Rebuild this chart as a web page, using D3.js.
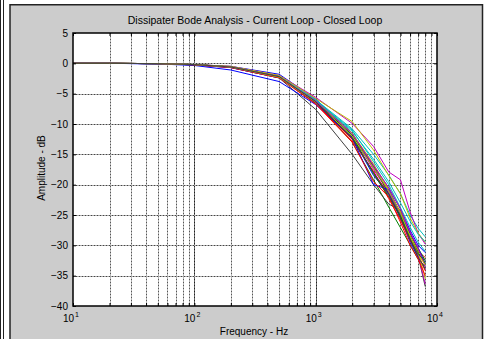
<!DOCTYPE html>
<html>
<head>
<meta charset="utf-8">
<script src="https://cdn.jsdelivr.net/npm/d3@7"></script>
<style>
  html, body { margin: 0; padding: 0; background: #fff; }
  svg { display: block; font-family: "Liberation Sans", Arial, sans-serif; }
</style>
</head>
<body>
<svg id="chart" width="490" height="339"></svg>
<script>
// Frequencies (Hz) at which each closed-loop response was measured
const freqs = [10, 20, 50, 100, 200, 500, 1000, 2000, 3000, 4000, 5000, 6000, 7000, 8000];

// Line colours, cycled through the runs in order
const seriesColors = ["#0000ff", "#008000", "#ff0000", "#00bfbf", "#bf00bf", "#bfbf00", "#404040"];

// Amplitude (dB) of each run, one row per run, aligned with freqs
const amplitudes = [
  [0.05, 0, -0.05, -0.2, -0.5, -1.8, -5.9, -11.5, -17.0, -20.5, -24.0, -27.5, -30.0, -31.2],
  [0, 0, -0.05, -0.2, -0.6, -2.2, -6.4, -13.0, -19.2, -23.7, -27.1, -29.9, -32.3, -33.5],
  [0.05, 0, -0.05, -0.25, -0.6, -2.3, -6.5, -12.5, -18.0, -21.5, -24.5, -28.0, -31.0, -32.0],
  [0, 0, -0.05, -0.2, -0.6, -2.1, -6.0, -10.8, -15.0, -18.4, -21.5, -25.0, -27.2, -28.6],
  [0, 0, -0.05, -0.2, -0.5, -2.0, -5.6, -9.9, -13.7, -17.9, -19.2, -24.5, -28.0, -29.8],
  [0.05, 0, -0.05, -0.2, -0.5, -2.0, -5.8, -9.6, -14.3, -18.5, -21.5, -25.5, -28.0, -29.5],
  [0, 0, -0.05, -0.25, -0.7, -2.4, -7.6, -15.0, -20.0, -23.2, -24.2, -29.0, -31.8, -36.8],
  [0.05, 0, -0.1, -0.35, -1.1, -3.0, -6.8, -12.2, -18.5, -21.5, -25.5, -29.5, -32.0, -34.0],
  [0, 0, -0.05, -0.2, -0.6, -2.3, -6.3, -11.8, -17.2, -21.0, -24.8, -28.5, -30.5, -32.5],
  [0, 0, -0.05, -0.2, -0.6, -2.2, -6.6, -12.8, -17.8, -22.3, -25.8, -29.2, -31.5, -34.2],
  [0, 0, -0.05, -0.25, -0.6, -2.2, -6.2, -11.2, -15.8, -19.5, -23.0, -26.0, -28.2, -29.4],
  [0, 0, -0.05, -0.2, -0.6, -2.3, -6.4, -12.0, -17.5, -21.2, -25.0, -28.8, -31.6, -36.4],
  [0, 0, -0.05, -0.2, -0.6, -2.2, -6.2, -11.5, -16.6, -20.8, -24.5, -28.2, -31.0, -35.5],
  [0, 0, -0.05, -0.25, -0.6, -2.3, -6.5, -12.2, -17.0, -21.5, -25.2, -29.0, -32.0, -33.8],
  [0, 0, -0.08, -0.25, -0.7, -2.4, -6.4, -12.3, -20.0, -20.8, -24.8, -28.0, -30.5, -33.0],
  [0, 0, -0.05, -0.2, -0.6, -2.2, -6.3, -12.0, -18.2, -22.0, -25.2, -28.6, -31.2, -33.0],
  [0, 0, -0.05, -0.25, -0.7, -2.4, -6.7, -13.0, -19.5, -22.0, -26.2, -30.0, -32.3, -35.0],
  [0, 0, -0.05, -0.2, -0.6, -2.2, -6.1, -11.0, -16.2, -20.0, -23.8, -27.0, -29.5, -31.0],
  [0, 0, -0.05, -0.2, -0.6, -2.2, -6.2, -11.6, -16.8, -20.5, -24.0, -27.8, -30.5, -33.5],
  [0, 0, -0.05, -0.2, -0.6, -2.3, -6.4, -12.0, -17.2, -21.0, -24.7, -28.5, -31.5, -33.2],
  [0, 0, -0.05, -0.2, -0.6, -2.2, -6.3, -12.4, -18.0, -21.8, -25.5, -29.0, -31.5, -32.5]
];

// Axis ticks
const yTicks = [5, 0, -5, -10, -15, -20, -25, -30, -35, -40];
const xMajorTicks = [10, 100, 1000, 10000];
const xMajorExponents = ["1", "2", "3", "4"];
const xMinorTicks = [];
[10, 100, 1000].forEach(d => { for (let m = 2; m <= 9; m++) xMinorTicks.push(d * m); });

const titleText = "Dissipater Bode Analysis - Current Loop - Closed Loop";
const xLabelText = "Frequency - Hz";
const yLabelText = "Amplitude - dB";

const svg = d3.select("#chart");
const plot = { left: 73, right: 437, top: 33, bottom: 306 };

// Figure frame
svg.append("line").attr("x1", 0.5).attr("x2", 0.5).attr("y1", 0).attr("y2", 339)
  .attr("stroke", "#222").attr("stroke-width", 1);
svg.append("line").attr("x1", 3.5).attr("x2", 3.5).attr("y1", 0).attr("y2", 339)
  .attr("stroke", "#222").attr("stroke-width", 1);
svg.append("rect").attr("x", 10).attr("y", 4.75).attr("width", 472.5).attr("height", 340)
  .attr("fill", "#cccccc").attr("stroke", "#222").attr("stroke-width", 1.5);

// Plot background
svg.append("rect").attr("x", plot.left).attr("y", plot.top)
  .attr("width", plot.right - plot.left).attr("height", plot.bottom - plot.top)
  .attr("fill", "#fff");

const x = d3.scaleLog().domain([10, 10000]).range([plot.left, plot.right]);
const y = d3.scaleLinear().domain([-40, 5]).range([plot.bottom, plot.top]);

// Grid: light line under a dark dotted pattern
const grid = svg.append("g");
const px = v => Math.round(v) + 0.5;
function gridLines(cls, data, vertical, base, dots) {
  const sel = grid.selectAll("line." + cls).data(data).join("line").attr("class", cls);
  if (vertical) {
    sel.attr("x1", d => px(x(d))).attr("x2", d => px(x(d))).attr("y1", plot.top).attr("y2", plot.bottom);
  } else {
    sel.attr("x1", plot.left).attr("x2", plot.right).attr("y1", d => px(y(d))).attr("y2", d => px(y(d)));
  }
  sel.attr("stroke", base).attr("stroke-width", 1);
  const dot = grid.selectAll("line." + cls + "d").data(data).join("line").attr("class", cls + "d");
  if (vertical) {
    dot.attr("x1", d => px(x(d))).attr("x2", d => px(x(d))).attr("y1", plot.top).attr("y2", plot.bottom);
  } else {
    dot.attr("x1", plot.left).attr("x2", plot.right).attr("y1", d => px(y(d))).attr("y2", d => px(y(d)));
  }
  dot.attr("stroke", dots).attr("stroke-width", 1).attr("stroke-dasharray", "1,2");
}
gridLines("vminor", xMinorTicks, true, "#b4b4b4", "#555");
gridLines("vmajor", xMajorTicks.slice(1, 3), true, "#666", "#222");
gridLines("hgrid", yTicks.slice(1, -1), false, "#a8a8a8", "#444");

// Response curves
const line = d3.line().x((d, i) => x(freqs[i])).y(d => y(d));
svg.append("g").selectAll("path").data(amplitudes).join("path")
  .attr("d", line)
  .attr("fill", "none")
  .attr("stroke", (d, i) => seriesColors[i % seriesColors.length])
  .attr("stroke-width", 1)
  .attr("stroke-linejoin", "round");

// Axes with inward ticks on all four sides
const tickLen = 3;
const axisStyle = g => {
  g.select(".domain").remove();
  g.selectAll(".tick line").attr("stroke", "#000");
  g.selectAll("text").attr("font-family", "Liberation Sans, Arial, sans-serif")
    .attr("font-size", 10).attr("fill", "#000");
};

svg.append("g").attr("transform", `translate(${plot.left},0)`)
  .call(d3.axisLeft(y).tickValues(yTicks).tickSizeInner(-tickLen).tickSizeOuter(0).tickPadding(5))
  .call(axisStyle);
svg.append("g").attr("transform", `translate(${plot.right},0)`)
  .call(d3.axisRight(y).tickValues(yTicks).tickSizeInner(-tickLen).tickSizeOuter(0).tickFormat(""))
  .call(axisStyle);

const xAll = xMinorTicks.concat(xMajorTicks);
svg.append("g").attr("transform", `translate(0,${plot.bottom})`)
  .call(d3.axisBottom(x).tickValues(xAll).tickSizeInner(-tickLen).tickSizeOuter(0).tickFormat(""))
  .call(axisStyle);
svg.append("g").attr("transform", `translate(0,${plot.top})`)
  .call(d3.axisTop(x).tickValues(xAll).tickSizeInner(-tickLen).tickSizeOuter(0).tickFormat(""))
  .call(axisStyle);

// Decade labels: 10 with a superscript exponent
const xLabels = svg.append("g").selectAll("text").data(xMajorTicks).join("text")
  .attr("x", d => x(d) - 2).attr("y", plot.bottom + 16)
  .attr("text-anchor", "middle")
  .attr("font-size", 10).attr("fill", "#000");
xLabels.append("tspan").text("10");
xLabels.append("tspan").text((d, i) => xMajorExponents[i])
  .attr("font-size", 7).attr("dy", -5).attr("dx", 1);

// Box
svg.append("rect").attr("x", plot.left).attr("y", plot.top)
  .attr("width", plot.right - plot.left).attr("height", plot.bottom - plot.top)
  .attr("fill", "none").attr("stroke", "#000").attr("stroke-width", 1.5);

// Titles
svg.append("text").attr("x", 255).attr("y", 24).attr("text-anchor", "middle")
  .attr("font-size", 10.5).attr("fill", "#000").text(titleText);
svg.append("text").attr("x", 254).attr("y", 335).attr("text-anchor", "middle")
  .attr("font-size", 10).attr("fill", "#000").text(xLabelText);
svg.append("text").attr("transform", "translate(45,168) rotate(-90)")
  .attr("text-anchor", "middle")
  .attr("font-size", 10).attr("fill", "#000").text(yLabelText);
</script>
</body>
</html>
